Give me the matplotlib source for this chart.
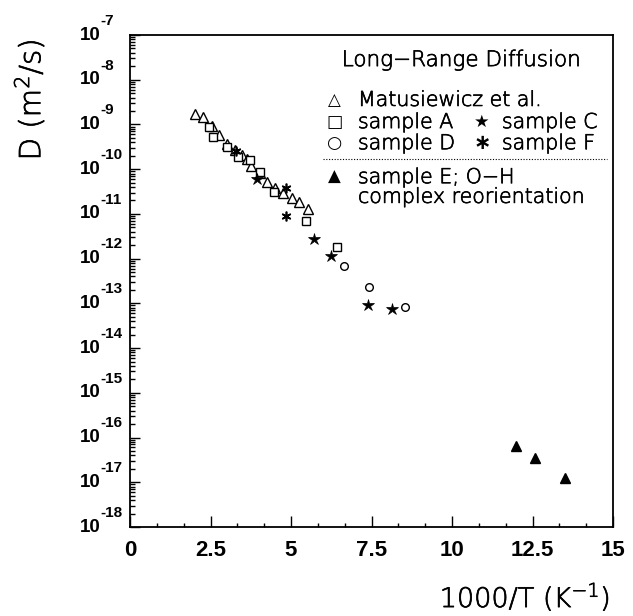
import matplotlib
matplotlib.use("Agg")
import matplotlib.pyplot as plt
import matplotlib.patheffects as pe
from matplotlib.ticker import LogLocator, MultipleLocator, FixedLocator, NullFormatter
import numpy as np

# ---- data ----
mat_x = [2.02, 2.28, 2.54, 2.77, 3.02, 3.26, 3.47, 3.62, 3.76, 4.04, 4.24, 4.50, 4.74, 5.02, 5.26, 5.52]
mat_y = [-8.77, -8.83, -9.03, -9.24, -9.44, -9.57, -9.68, -9.78, -9.94, -10.09, -10.28, -10.41, -10.54, -10.65, -10.74, -10.89]

A_x = [2.46, 2.57, 3.02, 3.36, 3.73, 4.04, 4.48, 5.48, 6.44]
A_y = [-9.05, -9.27, -9.50, -9.72, -9.79, -10.06, -10.50, -11.16, -11.73]

C_x = [3.95, 5.72, 6.23, 7.40, 8.15]
C_y = [-10.22, -11.55, -11.94, -13.04, -13.13]

D_x = [6.66, 7.41, 8.54]
D_y = [-12.16, -12.64, -13.09]

F_x = [3.28, 4.83, 4.83]
F_y = [-9.60, -10.43, -11.05]

E_x = [11.99, 12.58, 13.50]
E_y = [-16.18, -16.46, -16.91]

x_ticks = [0, 2.5, 5, 7.5, 10, 12.5, 15]
x_tick_labels = ["0", "2.5", "5", "7.5", "10", "12.5", "15"]
y_exps = list(range(-18, -6))

fig = plt.figure(figsize=(6.33, 6.16), dpi=100)
ax = fig.add_axes([130/633, 1-527/616, 483/633, 492/616])

def p(v):
    return [10.0**e for e in v]

ax.plot(mat_x, p(mat_y), linestyle='none', marker='^', mfc='white', mec='black', mew=1.0, ms=6.5)
ax.plot(A_x, p(A_y), linestyle='none', marker='s', mfc='white', mec='black', mew=1.0, ms=5.5)
ax.plot(D_x, p(D_y), linestyle='none', marker='o', mfc='white', mec='black', mew=1.0, ms=5.5)
ax.plot(C_x, p(C_y), linestyle='none', marker='*', mfc='black', mec='black', mew=0.5, ms=9)
ax.plot(F_x, p(F_y), linestyle='none', marker=(6, 2, 0), mfc='black', mec='black', mew=1.2, ms=7)
ax.plot(E_x, p(E_y), linestyle='none', marker='^', mfc='black', mec='black', mew=1.0, ms=6.5)

ax.set_yscale('log')
ax.set_xlim(0, 15)
ax.set_ylim(1e-18, 1e-7)

ax.yaxis.set_major_locator(FixedLocator([10.0**e for e in y_exps]))
ax.yaxis.set_minor_locator(LogLocator(base=10, subs=np.arange(2, 10), numticks=100))
ax.yaxis.set_major_formatter(NullFormatter())
ax.yaxis.set_minor_formatter(NullFormatter())

ax.xaxis.set_major_locator(FixedLocator(x_ticks))
ax.set_xticklabels(x_tick_labels)
ax.xaxis.set_minor_locator(MultipleLocator(2.5/3))

ax.tick_params(axis='both', which='both', direction='in', top=False, right=False, width=1.0)
ax.tick_params(axis='y', which='major', length=7.5)
ax.tick_params(axis='y', which='minor', length=3.5)
ax.tick_params(axis='x', which='major', length=8, pad=9)
ax.tick_params(axis='x', which='minor', length=3)
for lab in ax.get_xticklabels():
    lab.set_fontfamily('Liberation Sans')
    lab.set_fontweight('bold')
    lab.set_fontsize(16)
for s in ax.spines.values():
    s.set_linewidth(1.3)

# y tick labels: 10 with raised exponent
for e in y_exps:
    ax.annotate("10", xy=(0, 10.0**e), xycoords=('axes fraction', 'data'),
                xytext=(-21.5, 0), textcoords='offset points', ha='right', va='center',
                fontsize=13.5, family='Liberation Sans', weight='bold', annotation_clip=False)
    ax.annotate("%d" % e, xy=(0, 10.0**e), xycoords=('axes fraction', 'data'),
                xytext=(-21.0, 5.2), textcoords='offset points', ha='left', va='bottom',
                fontsize=11, family='Liberation Sans', weight='bold', annotation_clip=False)

fam = ['DejaVu Sans']
lw = 200
fs = 14.8
thick = [pe.withStroke(linewidth=0.5, foreground='black')]

def light_text(x, y, s, size, **kw):
    t = ax.text(x, y, s, transform=ax.transAxes, va='center', fontsize=size,
                family=fam, weight=lw, color='black', **kw)
    t.set_path_effects(thick)
    return t

# legend block (text)
light_text(0.685, 0.949, "Long\u2212Range Diffusion", 15.5, ha='center')
sym_x = 0.424
txt_x = 0.472
sym2_x = 0.729
txt2_x = 0.770
r1, r2, r3, rd, r4, r5 = 0.868, 0.823, 0.780, 0.748, 0.711, 0.671
ax.text(sym_x, r1, "\u25b3", transform=ax.transAxes, ha='center', va='center', fontsize=12, family=fam)
light_text(txt_x, r1, "Matusiewicz et al.", fs, ha='left')
ax.text(sym_x, r2, "\u25a1", transform=ax.transAxes, ha='center', va='center', fontsize=12.5, family=fam)
light_text(txt_x, r2, "sample A", fs, ha='left')
ax.text(sym2_x, r2, "\u2605", transform=ax.transAxes, ha='center', va='center', fontsize=12.5, family=fam)
light_text(txt2_x, r2, "sample C", fs, ha='left')
ax.text(sym_x, r3, "\u25cb", transform=ax.transAxes, ha='center', va='center', fontsize=12.5, family=fam)
light_text(txt_x, r3, "sample D", fs, ha='left')
ax.text(sym2_x, r3, "\u2217", transform=ax.transAxes, ha='center', va='center', fontsize=15, family=fam, weight='bold')
light_text(txt2_x, r3, "sample F", fs, ha='left')
ax.plot([0.400, 0.988], [rd, rd], transform=ax.transAxes, color='black', linestyle=(0, (1, 1.5)), linewidth=0.8)
ax.text(sym_x, r4, "\u25b2", transform=ax.transAxes, ha='center', va='center', fontsize=12, family=fam)
light_text(txt_x, r4, "sample E; O\u2212H", fs, ha='left')
light_text(txt_x, r5, "complex reorientation", fs, ha='left')

# axis labels
t1 = fig.text(30/633, 1-100/616, r"D (m$^{\mathregular{2}}$/s)", rotation=90, ha='center', va='center',
              fontsize=21, family=fam, weight=lw)
t2 = fig.text(525/633, 1-597/616, r"1000/T (K$^{\mathregular{-1}}$)", ha='center', va='center',
              fontsize=19.5, family=fam, weight=lw)
t1.set_path_effects(thick)
t2.set_path_effects(thick)

fig.savefig("out.png", dpi=100)
